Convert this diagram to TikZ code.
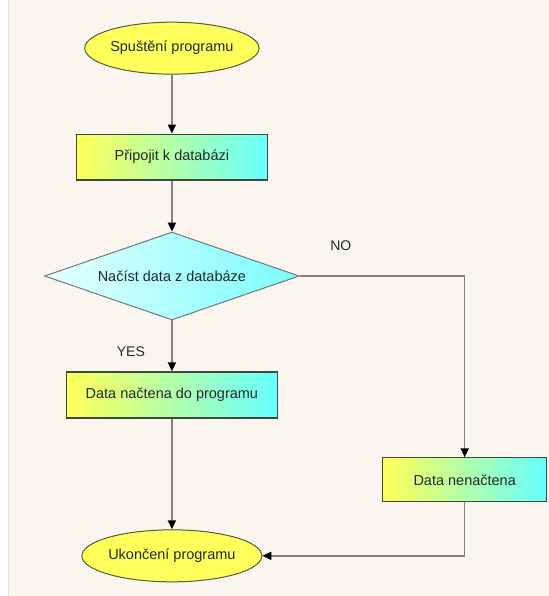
\documentclass[tikz,border=0pt]{standalone}
\usepackage{fontspec}
\setmainfont{Liberation Sans}
\usetikzlibrary{arrows.meta, shapes.geometric}
\definecolor{pagefill}{HTML}{FAF6EF}
\definecolor{pageline}{HTML}{E4DED6}
\definecolor{termfill}{HTML}{FFFF5C}
\definecolor{termline}{HTML}{5A5A3A}
\definecolor{procleft}{HTML}{FFFF55}
\definecolor{procright}{HTML}{66FFFF}
\definecolor{procline}{HTML}{3E4A40}
\definecolor{decleft}{HTML}{E6FFFF}
\definecolor{decright}{HTML}{7AFCFC}
\definecolor{decline}{HTML}{6E7A7A}
\definecolor{flowline}{HTML}{858080}
\definecolor{txt}{HTML}{1E2A2A}
\tikzset{
  termblk/.style = {ellipse, draw=termline, fill=termfill, line width=1pt,
                    font=\fontsize{14.5}{17}\selectfont, text=txt,
                    minimum width=152pt, minimum height=52pt, inner sep=0pt},
  procblk/.style = {rectangle, draw=procline, left color=procleft, right color=procright,
                    line width=1.2pt, font=\fontsize{14.5}{17}\selectfont, text=txt,
                    minimum height=46pt, inner sep=2pt},
  decblk/.style  = {diamond, aspect=2.9, draw=decline, left color=decleft, right color=decright,
                    line width=1pt, font=\fontsize{14.5}{17}\selectfont, text=txt,
                    minimum width=255pt, minimum height=88pt, inner sep=0pt},
  lbl/.style     = {font=\fontsize{14}{16}\selectfont, text=txt},
  flow/.style    = {-{Triangle[length=9pt, width=8pt, color=black]}, line width=1.6pt, draw=flowline},
}
\begin{document}
\begin{tikzpicture}[x=1pt, y=-1pt]
  % page
  \fill[white] (0,0) rectangle (549,596);
  \fill[pagefill] (8,0) rectangle (549,596);
  \draw[pageline] (8,0) -- (8,596);
  \useasboundingbox (0,0) rectangle (549,596);

  \node[termblk] (start) at (172,48) {Spuštění programu};
  \node[procblk, minimum width=191pt] (connect) at (172,157) {Připojit k databázi};
  \node[decblk] (read) at (172,276) {Načíst data z databáze};
  \node[procblk, minimum width=211pt] (loaded) at (172,395) {Data načtena do programu};
  \node[procblk, minimum width=164pt, minimum height=44pt] (failed) at (465,480) {Data nenačtena};
  \node[termblk, minimum width=154pt] (stop) at (172,556) {Ukončení programu};

  \node[lbl] (yes) at (131,352) {YES};
  \node[lbl] (no) at (341,246) {NO};

  \draw[flow] (start) -- (connect);
  \draw[flow] (connect) -- (read);
  \draw[flow] (read) -- (loaded);
  \draw[flow] (read.east) -| (failed.north);
  \draw[flow] (loaded) -- (stop);
  \draw[flow] (failed.south) |- (stop.east);
\end{tikzpicture}
\end{document}
